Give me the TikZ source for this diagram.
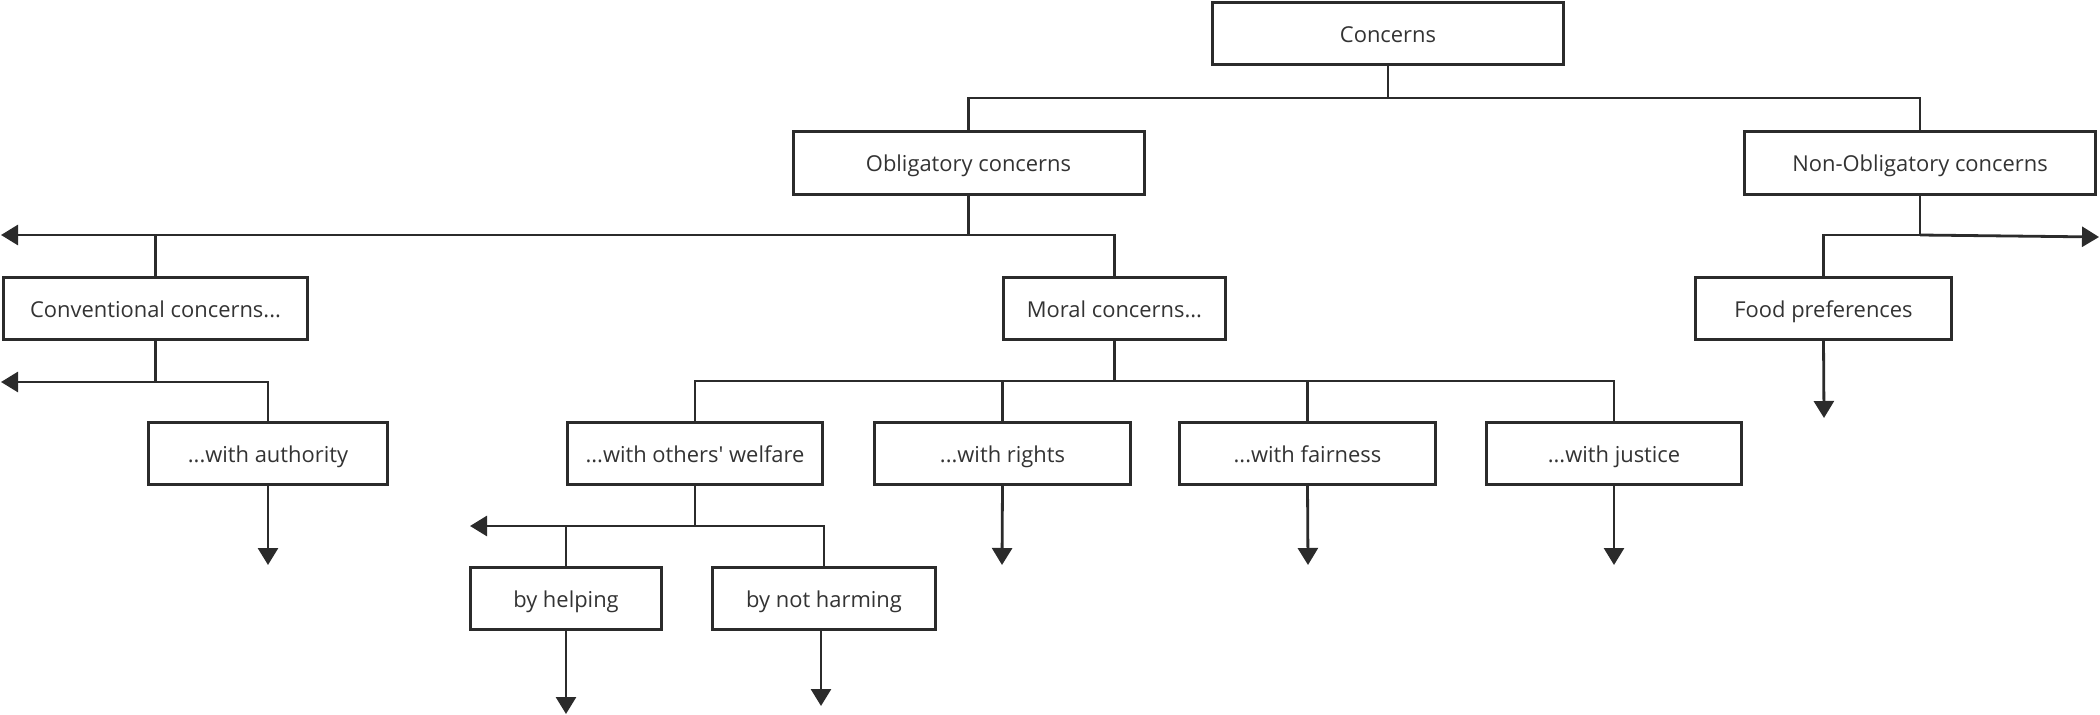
\documentclass[tikz,border=0pt]{standalone}
\usepackage{fontspec}
\setmainfont{Open Sans}
\usetikzlibrary{arrows.meta}
\definecolor{ln}{HTML}{2B2B2B}
\definecolor{txt}{HTML}{333333}
\begin{document}
\begin{tikzpicture}[x=1bp,y=-1bp,
  box/.style={draw=ln, line width=3bp, fill=white, inner sep=0pt, text=txt,
    font=\fontsize{22}{26}\selectfont, minimum height=62bp,
    text height=20bp, text depth=2bp},
  conn/.style={draw=ln, line width=2.8bp},
  arr/.style={conn, -{Triangle[width=20bp,length=17bp]}}]
\useasboundingbox (0,0) rectangle (2100,715);
% nodes
\node[box, minimum width=351bp] (concerns) at (1388,34) {Concerns};
\node[box, minimum width=351bp] (oblig) at (968.5,163) {Obligatory concerns};
\node[box, minimum width=351bp] (nonob) at (1920,163) {Non-Obligatory concerns};
\node[box, minimum width=304bp] (conv) at (155.5,308) {Conventional concerns...};
\node[box, minimum width=222bp] (moral) at (1114.5,308) {Moral concerns...};
\node[box, minimum width=256bp] (food) at (1823.5,308) {Food preferences};
\node[box, minimum width=239bp] (auth) at (268,453) {...with authority};
\node[box, minimum width=255bp] (welf) at (695,453) {...with others\textquotesingle\ welfare};
\node[box, minimum width=256bp] (rights) at (1002.5,453) {...with rights};
\node[box, minimum width=256bp] (fair) at (1307.5,453) {...with fairness};
\node[box, minimum width=255bp] (just) at (1614,453) {...with justice};
\node[box, minimum width=191bp] (help) at (566,598.5) {by helping};
\node[box, minimum width=223bp] (harm) at (824,598.5) {by not harming};
% bus levels
\coordinate (b1) at (0,98);
\coordinate (b2) at (0,235);
\coordinate (b3) at (0,381);
\coordinate (b4) at (0,526);
% free ends
\coordinate (l2) at (1,235);
\coordinate (r2) at (2099,237);
\coordinate (l3) at (1,382);
\coordinate (l4) at (470,526);
\coordinate (tfood) at (1824,418);
\coordinate (tauth) at (268,565);
\coordinate (trights) at (1002,565);
\coordinate (tfair) at (1308,565);
\coordinate (tjust) at (1614,565);
\coordinate (thelp) at (566,714);
\coordinate (tharm) at (821,706);
% level 1
\draw[conn] (concerns.south) -- (concerns.south |- b1);
\draw[conn] (oblig.north) |- (nonob.north |- b1) -- (nonob.north);
% obligatory
\draw[conn] (oblig.south) -- (oblig.south |- b2);
\draw[arr] (moral.north) |- (l2);
\draw[conn] (conv.north) -- (conv.north |- b2);
% non-obligatory
\draw[conn] (nonob.south) -- (nonob.south |- b2);
\draw[conn] (food.north) |- (nonob.south |- b2);
\draw[arr] (nonob.south |- b2) -- (r2);
\draw[arr] (food.south) -- (tfood);
% conventional
\draw[conn] (conv.south) -- (conv.south |- b3);
\draw[arr] (auth.north) |- (l3);
\draw[arr] (auth.south) -- (tauth);
% moral
\draw[conn] (moral.south) -- (moral.south |- b3);
\draw[conn] (welf.north) |- (just.north |- b3) -- (just.north);
\draw[conn] (rights.north) -- (rights.north |- b3);
\draw[conn] (fair.north) -- (fair.north |- b3);
\draw[arr] (rights.south) -- (trights);
\draw[arr] (fair.south) -- (tfair);
\draw[arr] (just.south) -- (tjust);
% welfare
\draw[conn] (welf.south) -- (welf.south |- b4);
\draw[arr] (harm.north) |- (l4);
\draw[conn] (help.north) -- (help.north |- b4);
\draw[arr] (help.south) -- (thelp);
\draw[arr] (harm.south -| tharm) -- (tharm);
\end{tikzpicture}
\end{document}
